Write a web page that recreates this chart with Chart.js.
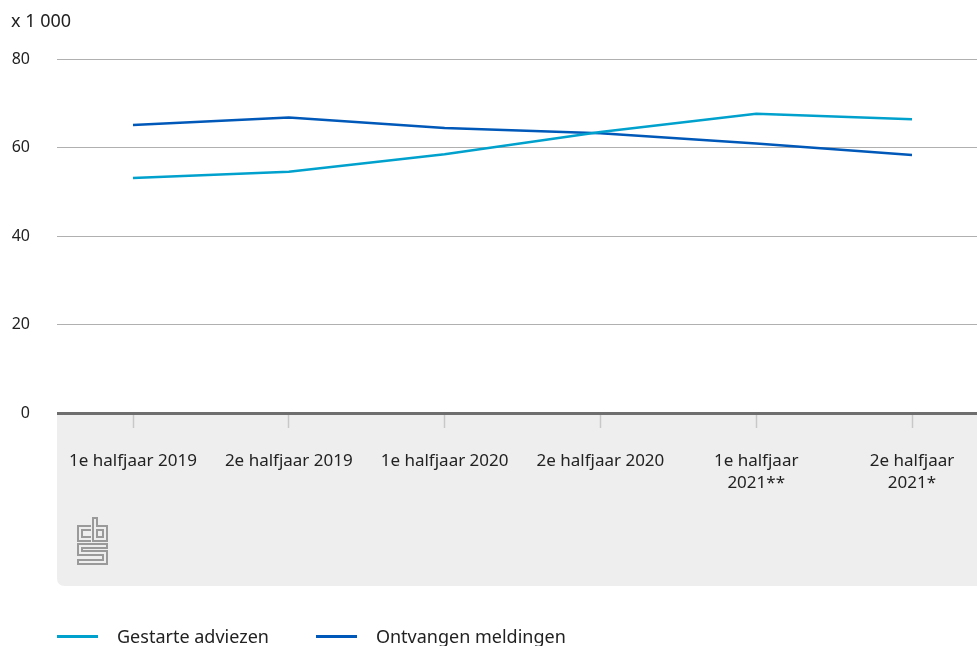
<!DOCTYPE html>
<html>
<head>
<meta charset="utf-8">
<script src="https://cdn.jsdelivr.net/npm/chart.js@4.4.1/dist/chart.umd.min.js"></script>
<style>
  body { margin: 0; background: #fff; font-family: "Noto Sans", sans-serif; }
  #wrap { position: relative; width: 977px; height: 646px; }
  #legend { position: absolute; left: 57px; top: 624px; display: flex; font-size: 18px; color: #222; }
  #legend .item { display: flex; align-items: center; margin-right: 47px; }
  #legend .swatch { width: 41px; height: 3px; margin-right: 19px; }
  #logo { position: absolute; left: 77px; top: 517px; }
</style>
</head>
<body>
<div id="wrap">
  <canvas id="chart" width="977" height="646"></canvas>
  <svg id="logo" width="31" height="48" viewBox="0 0 31 48" fill="none" stroke="#9a9a9a" stroke-width="2">
    <path d="M14 9 H1 V24 H14 M14 13 H5 V20 H14"/>
    <path d="M16 1 H20 V9 H30 V24 H16 Z M20 13 V20 H26 V13 Z"/>
    <path d="M30 27 H1 V38 H26 V43 H1 V47 H30 V34 H5 V31 H30 Z"/>
  </svg>
  <div id="legend"></div>
</div>
<script>
// categorieën en reeksen
const categories = ['1e halfjaar 2019', '2e halfjaar 2019', '1e halfjaar 2020', '2e halfjaar 2020', ['1e halfjaar', '2021**'], ['2e halfjaar', '2021*']];
const gestarteAdviezen = [53.1, 54.5, 58.5, 63.5, 67.6, 66.4];
const ontvangenMeldingen = [65.1, 66.8, 64.4, 63.2, 60.9, 58.3];
const seriesNames = ['Gestarte adviezen', 'Ontvangen meldingen'];
const seriesColors = ['#00a1cd', '#0058b8'];
const yTicks = [0, 20, 40, 60, 80];

const FONT = '"Noto Sans", sans-serif';

// grijs vlak onder de x-as + eenheid linksboven
const backdrop = {
  id: 'backdrop',
  beforeDraw(chart) {
    const { ctx, chartArea } = chart;
    const left = chartArea.left, top = chartArea.bottom, right = chart.width, bottom = 586, r = 8;
    ctx.save();
    ctx.fillStyle = '#eeeeee';
    ctx.beginPath();
    ctx.moveTo(left, top);
    ctx.lineTo(right, top);
    ctx.lineTo(right, bottom);
    ctx.lineTo(left + r, bottom);
    ctx.quadraticCurveTo(left, bottom, left, bottom - r);
    ctx.closePath();
    ctx.fill();
    ctx.fillStyle = '#222';
    ctx.font = '18px ' + FONT;
    ctx.textBaseline = 'middle';
    ctx.fillText('x 1 000', 11, 22);
    ctx.restore();
  }
};

const toPoints = vals => vals.map((v, i) => ({ x: i, y: v }));

new Chart(document.getElementById('chart'), {
  type: 'line',
  data: {
    datasets: [
      { label: seriesNames[0], data: toPoints(gestarteAdviezen), borderColor: seriesColors[0], backgroundColor: seriesColors[0] },
      { label: seriesNames[1], data: toPoints(ontvangenMeldingen), borderColor: seriesColors[1], backgroundColor: seriesColors[1] }
    ]
  },
  options: {
    responsive: false,
    devicePixelRatio: 1,
    animation: false,
    layout: { padding: { top: 59, bottom: 60, left: 0, right: 0 } },
    elements: {
      line: { borderWidth: 2.5, tension: 0 },
      point: { radius: 0, hoverRadius: 0 }
    },
    plugins: { legend: { display: false }, tooltip: { enabled: false } },
    scales: {
      x: {
        type: 'linear',
        min: -76 / 155.8,
        max: 5 + 65 / 155.8,
        afterBuildTicks: s => { s.ticks = categories.map((c, i) => ({ value: i })); },
        afterFit: s => { s.height = 173; },
        border: { display: false },
        grid: { drawOnChartArea: false, drawTicks: true, tickLength: 15, tickColor: '#c8c8c8', tickWidth: 1.5 },
        ticks: {
          autoSkip: false, maxRotation: 0, padding: 22,
          color: '#222', font: { family: FONT, size: 17, lineHeight: 1.3 },
          callback: v => categories[v]
        }
      },
      y: {
        min: 0, max: 80,
        afterBuildTicks: s => { s.ticks = yTicks.map(v => ({ value: v })); },
        afterFit: s => { s.width = 57; },
        border: { display: false },
        grid: {
          drawTicks: false,
          color: c => c.tick.value === 0 ? '#6e6e6e' : '#b0b0b0',
          lineWidth: c => c.tick.value === 0 ? 3 : 1
        },
        ticks: { padding: 27, color: '#222', font: { family: FONT, size: 16 } }
      }
    }
  },
  plugins: [backdrop]
});

// legenda
const legend = document.getElementById('legend');
seriesNames.forEach((name, i) => {
  const item = document.createElement('div');
  item.className = 'item';
  item.innerHTML = '<span class="swatch" style="background:' + seriesColors[i] + '"></span><span>' + name + '</span>';
  legend.appendChild(item);
});
</script>
</body>
</html>
